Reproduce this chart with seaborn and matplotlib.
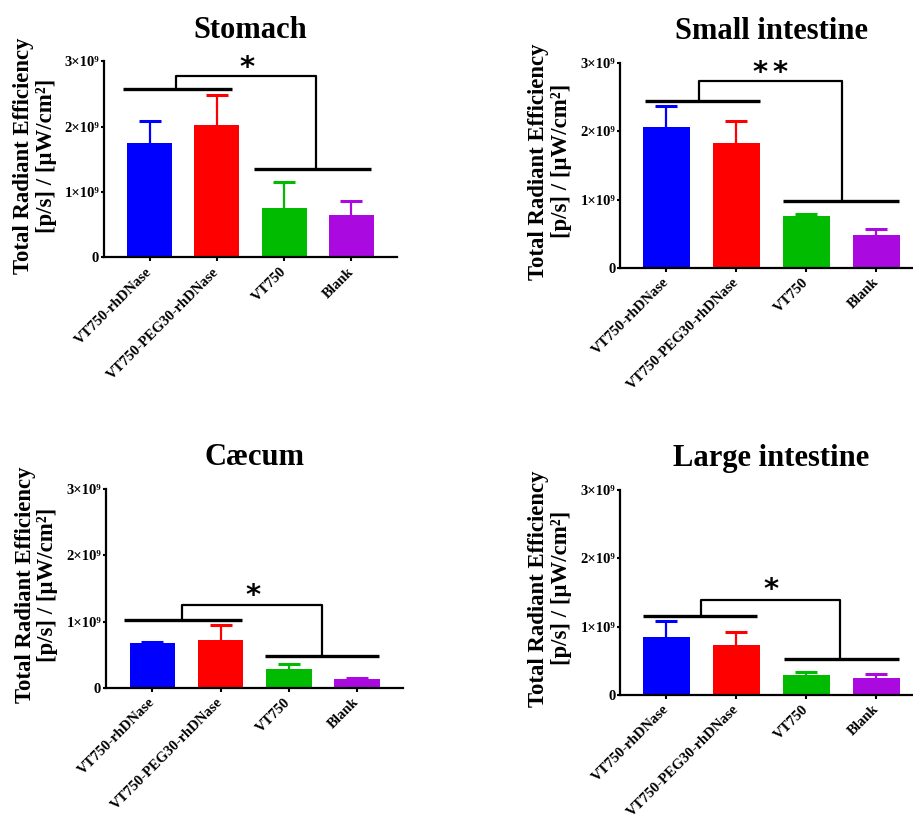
import matplotlib
matplotlib.use("Agg")
import matplotlib.pyplot as plt
import seaborn as sns
import pandas as pd

# values in units of 1e9 [p/s]/[uW/cm2]
groups = ["VT750-rhDNase", "VT750-PEG30-rhDNase", "VT750", "Blank"]
colors = ["#0000FF", "#FF0000", "#00BB00", "#AA0AE0"]
titles = ["Stomach", "Small intestine", "Cæcum", "Large intestine"]

stomach_mean = [1.755, 2.03, 0.755, 0.65]
stomach_err = [0.325, 0.45, 0.405, 0.21]
small_mean = [2.06, 1.83, 0.766, 0.488]
small_err = [0.31, 0.32, 0.03, 0.078]
caecum_mean = [0.673, 0.72, 0.28, 0.136]
caecum_err = [0.027, 0.23, 0.077, 0.02]
large_mean = [0.84, 0.733, 0.283, 0.239]
large_err = [0.235, 0.18, 0.044, 0.064]

means = [stomach_mean, small_mean, caecum_mean, large_mean]
errs = [stomach_err, small_err, caecum_err, large_err]

yticks = [0, 1, 2, 3]
ytick_labels = ["0", "1×10⁹", "2×10⁹", "3×10⁹"]
stars = ["*", "**", "*", "*"]

# significance brackets: left bar y, right bar y, connector top y, star y
left_y = [2.57, 2.44, 1.02, 1.148]
right_y = [1.35, 0.976, 0.477, 0.518]
top_y = [2.78, 2.73, 1.246, 1.383]
star_y = [2.90, 2.85, 1.38, 1.54]

sns.set_style("ticks")
plt.rcParams["font.family"] = ["Liberation Serif", "DejaVu Serif"]
plt.rcParams["font.weight"] = "bold"
for k in ["text.color", "axes.labelcolor", "xtick.color", "ytick.color",
          "axes.edgecolor"]:
    plt.rcParams[k] = "black"

fig = plt.figure(figsize=(9.13, 8.21), dpi=100)
positions = [
    [0.1139, 0.6866, 0.3209, 0.2387],
    [0.6794, 0.6736, 0.3310, 0.2497],
    [0.1161, 0.1620, 0.3256, 0.2424],
    [0.6794, 0.1538, 0.3310, 0.2493],
]
xlims = [(-0.68, 3.68), (-0.66, 3.66), (-0.68, 3.68), (-0.66, 3.66)]
brk_x = [
    (-0.39, 1.23, 1.55, 3.29, 0.39, 2.47, 1.45),
    (-0.30, 1.33, 1.67, 3.33, 0.46, 2.51, 1.48),
    (-0.41, 1.31, 1.65, 3.32, 0.44, 2.49, 1.47),
    (-0.33, 1.29, 1.68, 3.33, 0.50, 2.48, 1.49),
]

for i in range(4):
    ax = fig.add_axes(positions[i])
    df = pd.DataFrame({"group": groups, "value": means[i]})
    sns.barplot(data=df, x="group", y="value", hue="group", palette=colors,
                width=0.67, errorbar=None, legend=False, linewidth=0,
                saturation=1, ax=ax)
    for j in range(4):
        eb = ax.errorbar(j, means[i][j], yerr=[[0], [errs[i][j]]], fmt="none",
                         ecolor=colors[j], elinewidth=1.6, capsize=8,
                         capthick=2.2, zorder=1)
        eb[1][0].set_visible(False)
    lx0, lx1, rx0, rx1, cx0, cx1, sx = brk_x[i]
    ax.plot([lx0, lx1], [left_y[i], left_y[i]], color="black", lw=2.4,
            solid_capstyle="butt", clip_on=False)
    ax.plot([rx0, rx1], [right_y[i], right_y[i]], color="black", lw=2.4,
            solid_capstyle="butt", clip_on=False)
    ax.plot([cx0, cx0, cx1, cx1], [left_y[i], top_y[i], top_y[i], right_y[i]],
            color="black", lw=1.6, clip_on=False)
    n = len(stars[i])
    for k in range(n):
        ax.text(sx + (k - (n - 1) / 2) * 0.29, star_y[i], stars[i][k],
                ha="center", va="center", fontsize=21, fontweight="bold",
                family="DejaVu Sans")

    ax.set_xlim(*xlims[i])
    ax.set_ylim(0, 3)
    ax.set_yticks(yticks)
    ax.set_yticklabels(ytick_labels, fontsize=10.5, fontweight="bold")
    ax.set_xticks(range(4))
    ax.set_xticklabels(groups, rotation=45, ha="right", va="center",
                       rotation_mode="anchor", fontsize=10.5, fontweight="bold")
    ax.tick_params(axis="y", length=2.5, width=1.5, pad=1)
    ax.tick_params(axis="x", length=3, width=1.5, pad=6)
    ax.set_xlabel("")
    ax.set_ylabel("Total Radiant Efficiency\n[p/s] / [µW/cm²]", fontsize=16.4,
                  fontweight="bold", linespacing=1.12)
    ax.yaxis.set_label_coords(-0.16, 0.52)
    ax.set_title(titles[i], fontsize=22, fontweight="bold", pad=17)
    sns.despine(ax=ax)
    for s in ["left", "bottom"]:
        ax.spines[s].set_linewidth(1.6)
        ax.spines[s].set_color("black")

fig.savefig("out.png", dpi=100)
